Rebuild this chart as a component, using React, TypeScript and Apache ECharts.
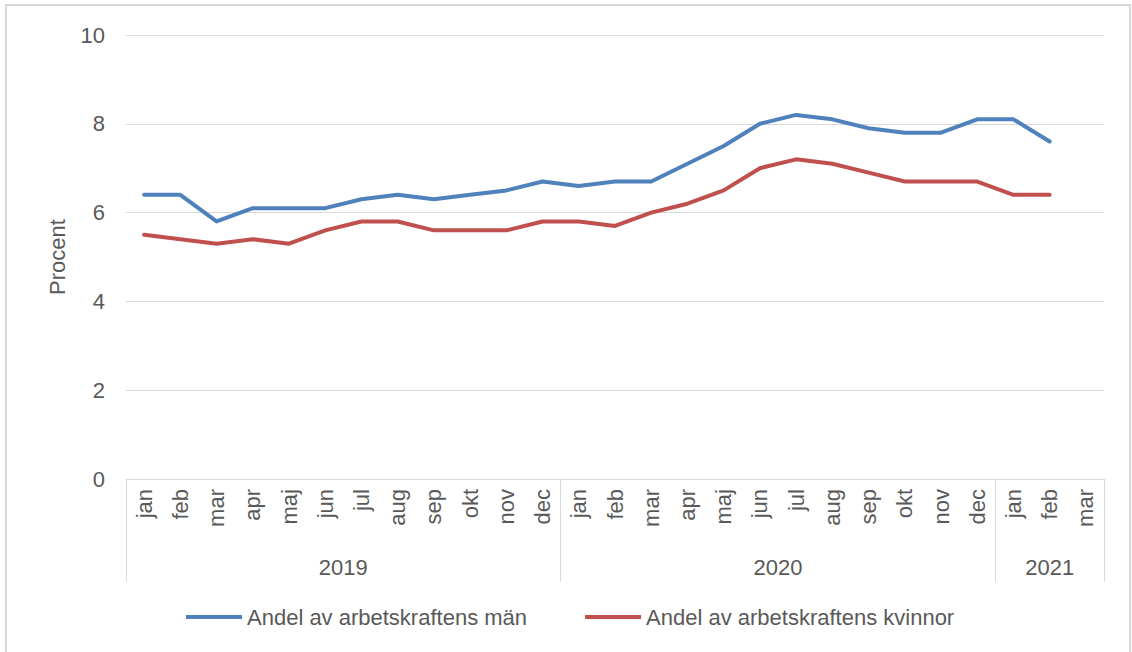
import React, { useEffect, useRef } from "react";
import * as echarts from "echarts";

const months = [
  "jan", "feb", "mar", "apr", "maj", "jun", "jul", "aug", "sep", "okt", "nov", "dec",
  "jan", "feb", "mar", "apr", "maj", "jun", "jul", "aug", "sep", "okt", "nov", "dec",
  "jan", "feb", "mar",
];
const years = ["2019", "2020", "2021"];
// year label positions on a half-step axis (55 points spanning 27 months)
const yearSlots = [12, 36, 51];
const yearDividers = [0, 24, 48, 54];

const menValues = [
  6.4, 6.4, 5.8, 6.1, 6.1, 6.1, 6.3, 6.4, 6.3, 6.4, 6.5, 6.7,
  6.6, 6.7, 6.7, 7.1, 7.5, 8.0, 8.2, 8.1, 7.9, 7.8, 7.8, 8.1,
  8.1, 7.6, null,
];
const womenValues = [
  5.5, 5.4, 5.3, 5.4, 5.3, 5.6, 5.8, 5.8, 5.6, 5.6, 5.6, 5.8,
  5.8, 5.7, 6.0, 6.2, 6.5, 7.0, 7.2, 7.1, 6.9, 6.7, 6.7, 6.7,
  6.4, 6.4, null,
];
const seriesNames = ["Andel av arbetskraftens män", "Andel av arbetskraftens kvinnor"];
const yTicks = { min: 0, max: 10, interval: 2 };

const FONT = "'Liberation Sans', Arial, sans-serif";
const TEXT = "#595959";
const GRID = "#D9D9D9";

export default function App() {
  const ref = useRef<HTMLDivElement>(null);
  useEffect(() => {
    if (!ref.current) return;
    const chart = echarts.init(ref.current, null, { renderer: "svg" });
    const yearData: string[] = [];
    for (let i = 0; i < 55; i++) {
      const k = yearSlots.indexOf(i);
      yearData.push(k >= 0 ? years[k] : "");
    }
    chart.setOption({
      animation: false,
      textStyle: { fontFamily: FONT },
      graphic: [
        {
          type: "rect",
          shape: { x: 6, y: 5, width: 1124, height: 660 },
          style: { fill: "none", stroke: GRID, lineWidth: 2 },
          silent: true,
        },
      ],
      grid: { left: 126, right: 28, top: 35, bottom: 173 },
      legend: {
        left: 181,
        top: 601,
        icon: "rect",
        itemWidth: 56,
        itemHeight: 4,
        itemGap: 58,
        textStyle: { color: TEXT, fontSize: 22, fontFamily: FONT },
        data: seriesNames,
      },
      xAxis: [
        {
          type: "category",
          data: months,
          boundaryGap: true,
          axisLine: { show: true, lineStyle: { color: GRID, width: 1 } },
          axisTick: { show: false },
          axisLabel: {
            rotate: 90,
            interval: 0,
            margin: 10,
            color: TEXT,
            fontSize: 22,
            fontFamily: FONT,
          },
          splitLine: { show: false },
        },
        {
          type: "category",
          data: yearData,
          boundaryGap: false,
          position: "bottom",
          axisLine: { show: false },
          axisTick: {
            show: true,
            length: 103,
            interval: (i: number) => yearDividers.indexOf(i) >= 0,
            lineStyle: { color: GRID, width: 1 },
          },
          axisLabel: {
            interval: 0,
            margin: 77,
            color: TEXT,
            fontSize: 22,
            fontFamily: FONT,
          },
          splitLine: { show: false },
        },
      ],
      yAxis: {
        type: "value",
        min: yTicks.min,
        max: yTicks.max,
        interval: yTicks.interval,
        name: "Procent",
        nameLocation: "middle",
        nameGap: 58,
        nameTextStyle: { color: TEXT, fontSize: 22, fontFamily: FONT },
        axisLine: { show: false },
        axisTick: { show: false },
        axisLabel: { color: TEXT, fontSize: 22, margin: 21, fontFamily: FONT },
        splitLine: { lineStyle: { color: GRID, width: 1 } },
      },
      series: [
        {
          name: seriesNames[0],
          type: "line",
          data: menValues,
          xAxisIndex: 0,
          showSymbol: false,
          symbol: "none",
          lineStyle: { color: "#4F81BD", width: 4, join: "round", cap: "round" },
          itemStyle: { color: "#4F81BD" },
        },
        {
          name: seriesNames[1],
          type: "line",
          data: womenValues,
          xAxisIndex: 0,
          showSymbol: false,
          symbol: "none",
          lineStyle: { color: "#C0504D", width: 4, join: "round", cap: "round" },
          itemStyle: { color: "#C0504D" },
        },
      ],
    });
    return () => chart.dispose();
  }, []);
  return (
    <div
      ref={ref}
      style={{ position: "fixed", left: 0, top: 0, width: 1132, height: 652, background: "#fff" }}
    />
  );
}
